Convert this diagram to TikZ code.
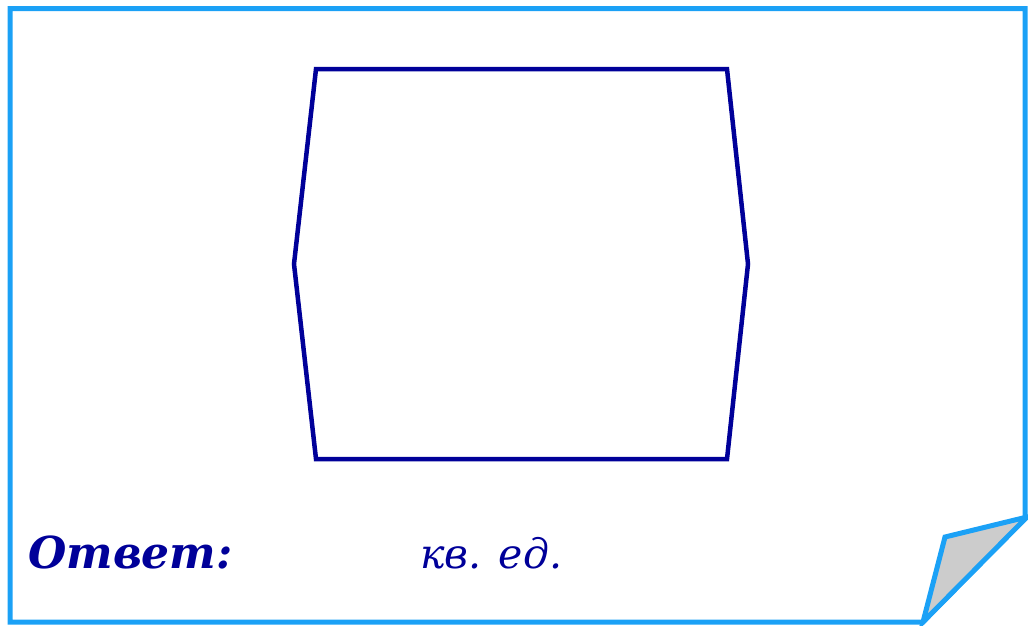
\documentclass[tikz,border=0pt]{standalone}
\usepackage{fontspec}
\setmainfont{DejaVu Serif}
\definecolor{dblue}{RGB}{0,0,153}
\definecolor{lblue}{RGB}{27,161,246}
\definecolor{foldgray}{RGB}{204,204,204}
\begin{document}
\begin{tikzpicture}[x=1pt,y=-1pt,
  frame/.style={draw=lblue,line width=5pt,line join=miter},
  hexa/.style={draw=dblue,line width=4.5pt,line join=miter},
  lbl/.style={anchor=base west,inner sep=0pt,text=dblue,font=\fontsize{41}{48}\selectfont\itshape}]
\useasboundingbox (0,0) rectangle (1028,625);
\coordinate (br) at (923,622);
\coordinate (fp) at (945,537);
\coordinate (tip) at (1027,517);
\draw[frame] (1025,517) -- (1025,8.5) -- (10,8.5) -- (10,622) -- (br) -- (1027,515.5);
\draw[frame,fill=foldgray] (br) -- (fp) -- (tip) -- cycle;
\draw[hexa] (316,69) -- (727,69) -- (748,264) -- (727,459) -- (316,459) -- (294,264) -- cycle;
\node[lbl,font=\fontsize{44}{50}\selectfont\bfseries\itshape] (ans) at (28,568) {Ответ:};
\node[lbl] (unit) at (420,568) {кв. ед.};
\end{tikzpicture}
\end{document}
